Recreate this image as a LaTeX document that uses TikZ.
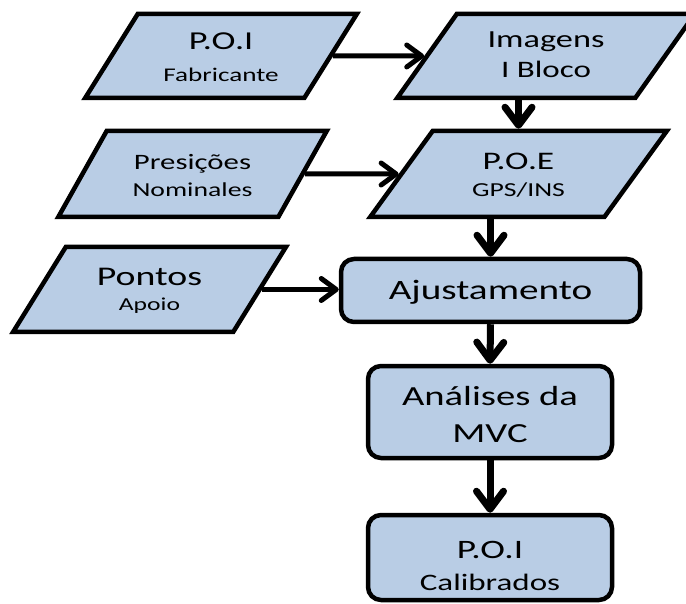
\documentclass[tikz,border=0pt]{standalone}
\usepackage{fontspec}
\setmainfont{Carlito}
\usepackage{graphicx}
\usetikzlibrary{shapes.geometric,arrows.meta}
\definecolor{boxblue}{HTML}{B9CDE5}
\newcommand\tline[4]{\rule[-#4pt]{0pt}{\dimexpr #3pt+#4pt\relax}\smash{\scalebox{1.4}[1]{\fontsize{#1}{#1}\selectfont #2}}}
\tikzset{
  box/.style={draw=black, line width=4.5pt, fill=boxblue, align=center, inner sep=0pt},
  para/.style={box, trapezium, trapezium left angle=57, trapezium right angle=123, trapezium stretches=true},
  rbox/.style={box, rectangle, rounded corners=13pt},
  harr/.style={line width=5pt, -{Straight Barb[length=15pt, width=22pt, round]}},
  varr/.style={line width=7pt, -{Straight Barb[length=18pt, width=27pt, round]}},
}
\begin{document}
\begin{tikzpicture}[x=1pt,y=-1pt]
\useasboundingbox (0,0) rectangle (686,604);
\node[para, minimum width=272, minimum height=84] (poi) at (221,56)
  {\tline{25.8}{P.O.I}{22}{8}\\\tline{19.4}{Fabricante}{23}{2}};
\node[para, minimum width=298, minimum height=84] (img) at (546,56)
  {\tline{24.5}{Imagens}{22}{8}\\\tline{23.6}{I Bloco}{21}{8}};
\node[para, minimum width=269, minimum height=86] (pre) at (192.5,174)
  {\tline{22}{Presições}{22}{8}\\\tline{19.8}{Nominales}{18}{3}};
\node[para, minimum width=297, minimum height=86] (poe) at (518.5,174)
  {\tline{25.3}{P.O.E}{22}{8}\\\tline{19.8}{GPS/INS}{18}{3}};
\node[para, minimum width=273, minimum height=85] (pon) at (149.5,289.5)
  {\tline{27}{Pontos}{22}{8}\\\tline{18.3}{Apoio}{16}{4}};
\node[rbox, minimum width=299, minimum height=63] (aj) at (490.5,290.5)
  {\tline{28}{Ajustamento}{22}{3}};
\node[rbox, minimum width=244, minimum height=92] (an) at (490,412)
  {\tline{27.6}{Análises da}{24}{8}\\\tline{27.6}{MVC}{28}{1}};
\node[rbox, minimum width=244, minimum height=85] (cal) at (490,557.5)
  {\tline{26.6}{P.O.I}{34}{8}\\\tline{23.6}{Calibrados}{23}{1}};
\draw[harr] (poi.east) -- (img.west);
\draw[harr] (pre.east) -- (poe.west);
\draw[harr] (pon.east) -- (pon.east -| aj.west);
\draw[varr] (poe.north |- img.south) -- (poe.north);
\draw[varr] (aj.north |- poe.south) -- (aj.north);
\draw[varr] (aj.south) -- (an.north);
\draw[varr] (an.south) -- (cal.north);
\end{tikzpicture}
\end{document}
